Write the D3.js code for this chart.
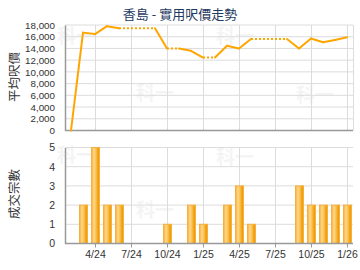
<!DOCTYPE html>
<html>
<head>
<meta charset="utf-8">
<script src="https://cdn.jsdelivr.net/npm/d3@7"></script>
<style>
  html, body { margin: 0; padding: 0; background: #fff; }
  svg { display: block; font-family: "Liberation Sans", Arial, sans-serif; }
</style>
</head>
<body>
<svg id="chart" width="360" height="270"></svg>
<script>
// 2/24 .. 1/26, one entry per month
const MONTHS = ["2/24","3/24","4/24","5/24","6/24","7/24","8/24","9/24","10/24","11/24","12/24",
  "1/25","2/25","3/25","4/25","5/25","6/25","7/25","8/25","9/25","10/25","11/25","12/25","1/26"];
// null = no transaction that month (drawn as a dotted carry-over)
const PRICES = [0, 16700, 16450, 17800, 17450, null, null, null, 14000, null, 13600,
  12450, null, 14450, 14000, 15600, null, null, null, 14000, 15700, 15050, 15450, 15900];
const COUNTS = [0, 2, 5, 2, 2, 0, 0, 0, 1, 0, 2, 1, 0, 2, 3, 1, 0, 0, 0, 3, 2, 2, 2, 2];
const TICK_MONTHS = ["4/24","7/24","10/24","1/25","4/25","7/25","10/25","1/26"];
const PRICE_TICKS = d3.range(0, 18001, 2000);
const COUNT_TICKS = [0, 1, 2, 3, 4, 5];

const TITLE = "香島 - 實用呎價走勢";

const svg = d3.select("#chart");
const left = 65, right = 353;

const x = d3.scaleLinear().domain([-0.5, MONTHS.length - 0.5]).range([left, right]);
const yP = d3.scaleLinear().domain([0, 18000]).range([130.5, 25]);
const yC = d3.scaleLinear().domain([0, 5]).range([243.5, 147.5]);

const tickIdx = TICK_MONTHS.map(m => MONTHS.indexOf(m));

// title
svg.append("text")
  .attr("x", 180).attr("y", 19)
  .attr("text-anchor", "middle")
  .style("font-size", "13px")
  .style("fill", "#1f3a5f")
  .style("font-family", "'Noto Sans CJK TC', sans-serif")
  .text(TITLE);

// watermarks
const marks = [[57, 43], [136, 100], [216, 43], [296, 102], [57, 162], [136, 217], [216, 164], [296, 219]];
svg.selectAll(".wm").data(marks).enter().append("text")
  .attr("x", d => d[0]).attr("y", d => d[1])
  .style("font-size", "19px").style("font-weight", "bold")
  .style("fill", "#000").style("opacity", 0.04)
  .style("font-family", "'Noto Sans CJK TC', sans-serif")
  .text("科一");

// ---- top chart grid
const gTop = svg.append("g");
gTop.selectAll(".hg").data(PRICE_TICKS.slice(1)).enter().append("line")
  .attr("x1", left).attr("x2", right)
  .attr("y1", d => yP(d)).attr("y2", d => yP(d))
  .attr("stroke", "#dcdcdc").attr("stroke-width", 1);
gTop.selectAll(".vg").data(tickIdx).enter().append("line")
  .attr("x1", d => Math.round(x(d)) + 0.5).attr("x2", d => Math.round(x(d)) + 0.5)
  .attr("y1", yP(18000)).attr("y2", yP(0))
  .attr("stroke", "#dcdcdc");
gTop.append("line")
  .attr("x1", right + 0.5).attr("x2", right + 0.5)
  .attr("y1", yP(18000)).attr("y2", yP(0))
  .attr("stroke", "#dcdcdc");

const yAxisP = d3.axisLeft(yP).tickValues(PRICE_TICKS).tickSize(0).tickPadding(10);
const gyP = svg.append("g").attr("transform", `translate(${left},0)`).call(yAxisP);
gyP.select(".domain").attr("stroke", "#999").attr("stroke-width", 1.5);
gyP.selectAll("text").style("font-size", "9.8px").style("fill", "#333")
  .style("font-family", "'Liberation Sans', Arial, sans-serif");
svg.append("line").attr("x1", left).attr("x2", right)
  .attr("y1", yP(0)).attr("y2", yP(0))
  .attr("stroke", "#999").attr("stroke-width", 1.5);

// price line: solid between known months, dotted while carrying over gaps
let last = null;
const segs = [];
PRICES.forEach((v, i) => {
  if (i === 0) { last = v; return; }
  const cur = v === null ? last : v;
  segs.push({ i0: i - 1, v0: last, i1: i, v1: cur, dotted: v === null });
  last = cur;
});
const line = d3.line().x(d => x(d[0])).y(d => yP(d[1]));
svg.selectAll(".seg").data(segs).enter().append("path")
  .attr("d", d => line([[d.i0, d.v0], [d.i1, d.v1]]))
  .attr("fill", "none")
  .attr("stroke", "#ffa500")
  .attr("stroke-width", 2)
  .attr("stroke-linecap", d => d.dotted ? "butt" : "round")
  .attr("stroke-dasharray", d => d.dotted ? "2,2" : null);

// ---- bottom chart
const gBot = svg.append("g");
gBot.selectAll(".hg").data(COUNT_TICKS.slice(1)).enter().append("line")
  .attr("x1", left).attr("x2", right)
  .attr("y1", d => yC(d)).attr("y2", d => yC(d))
  .attr("stroke", "#dcdcdc");
gBot.selectAll(".vg").data(tickIdx).enter().append("line")
  .attr("x1", d => Math.round(x(d)) + 0.5).attr("x2", d => Math.round(x(d)) + 0.5)
  .attr("y1", yC(5)).attr("y2", yC(0))
  .attr("stroke", "#dcdcdc");

const defs = svg.append("defs");
const grad = defs.append("linearGradient").attr("id", "barGrad")
  .attr("x1", "0%").attr("x2", "100%").attr("y1", "0%").attr("y2", "0%");
[["0%", "#f6ae33"], ["30%", "#ffd88a"], ["55%", "#fbc257"], ["80%", "#f2a20f"], ["100%", "#eb9a00"]]
  .forEach(s => grad.append("stop").attr("offset", s[0]).attr("stop-color", s[1]));

const barW = 8;
svg.selectAll(".bar").data(COUNTS.map((c, i) => ({ c, i })).filter(d => d.c > 0))
  .enter().append("rect")
  .attr("x", d => Math.round(x(d.i) - barW / 2) + 0.5)
  .attr("y", d => yC(d.c))
  .attr("width", barW)
  .attr("height", d => yC(0) - yC(d.c))
  .attr("fill", "url(#barGrad)")
  .attr("stroke", "#f5b040")
  .attr("stroke-width", 1);

const yAxisC = d3.axisLeft(yC).tickValues(COUNT_TICKS).tickFormat(d3.format("d"))
  .tickSize(0).tickPadding(10);
const gyC = svg.append("g").attr("transform", `translate(${left},0)`).call(yAxisC);
gyC.select(".domain").attr("stroke", "#999").attr("stroke-width", 1.5);
gyC.selectAll("text").style("font-size", "10.5px").style("fill", "#333")
  .style("font-family", "'Liberation Sans', Arial, sans-serif");

const xAxis = d3.axisBottom(x).tickValues(tickIdx)
  .tickFormat(i => MONTHS[i]).tickSize(4).tickPadding(3);
const gx = svg.append("g").attr("transform", `translate(0,${yC(0)})`).call(xAxis);
gx.select(".domain").remove();
gx.selectAll("line").attr("stroke", "#999");
gx.selectAll("text").style("font-size", "10.5px").style("fill", "#333")
  .style("font-family", "'Liberation Sans', Arial, sans-serif");
svg.append("line").attr("x1", left).attr("x2", right)
  .attr("y1", yC(0)).attr("y2", yC(0))
  .attr("stroke", "#999").attr("stroke-width", 1.5);

// axis titles
[["平均呎價", 77], ["成交宗數", 194]].forEach(([t, cy]) => {
  svg.append("text")
    .attr("transform", `translate(19,${cy}) rotate(-90)`)
    .attr("text-anchor", "middle")
    .style("font-size", "12.5px")
    .style("fill", "#333")
    .style("font-family", "'Noto Sans CJK TC', sans-serif")
    .text(t);
});
</script>
</body>
</html>
